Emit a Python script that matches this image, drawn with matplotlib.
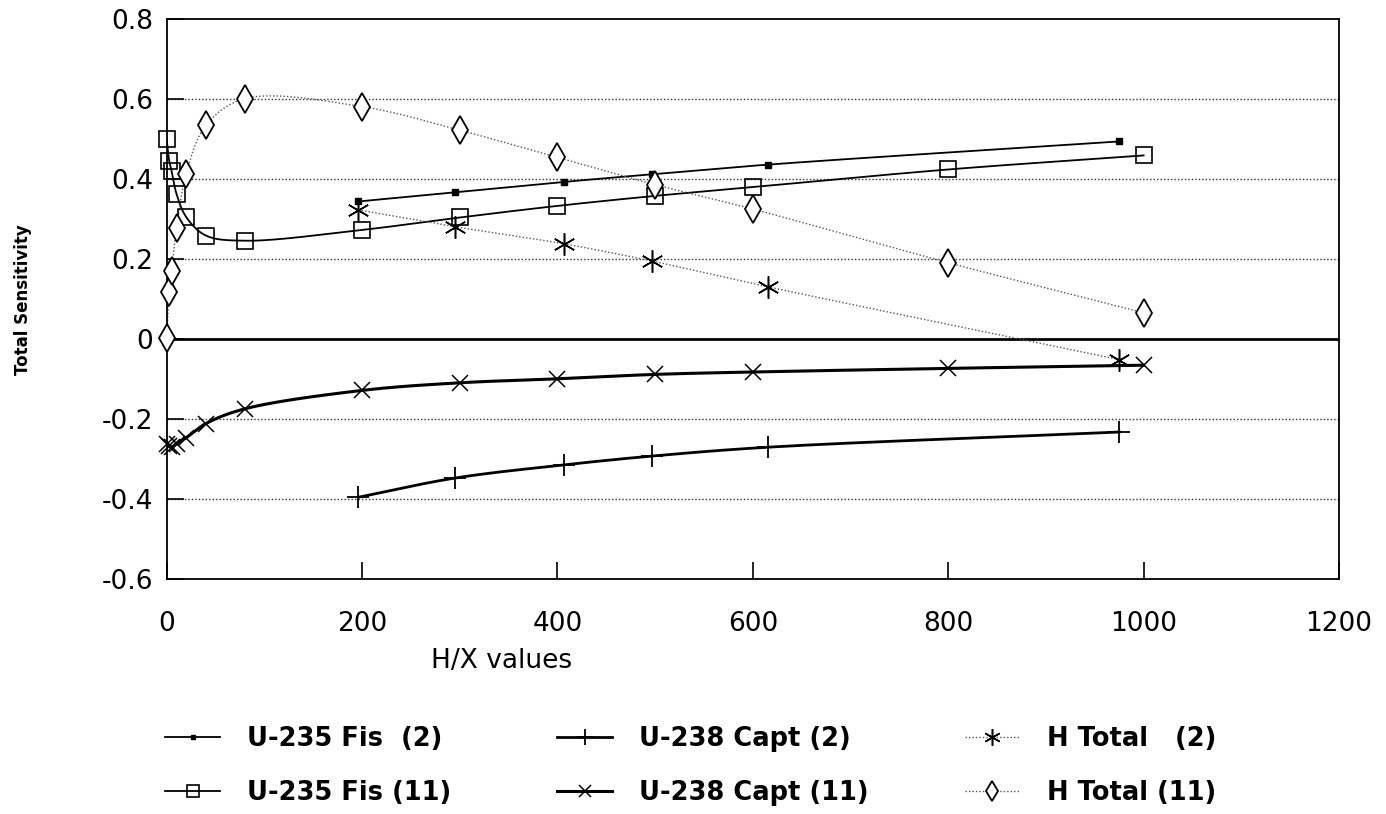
import numpy as np
import matplotlib.pyplot as plt
from matplotlib.lines import Line2D

plt.rcParams['font.family'] = ['DejaVu Sans']
plt.rcParams['axes.unicode_minus'] = False

# H/X values for the two cases
hx_2 = [196, 295, 407, 497, 615, 975]
hx_11 = [0, 2.5, 5, 10, 20, 40, 80, 200, 300, 400, 500, 600, 800, 1000]

u235_fis_2 = [0.344, 0.367, 0.393, 0.412, 0.436, 0.494]
u238_capt_2 = [-0.395, -0.347, -0.314, -0.292, -0.270, -0.232]
h_total_2 = [0.323, 0.281, 0.238, 0.195, 0.131, -0.051]

u235_fis_11 = [0.499, 0.446, 0.420, 0.363, 0.305, 0.259, 0.246,
               0.273, 0.304, 0.333, 0.358, 0.380, 0.424, 0.459]
u238_capt_11 = [-0.262, -0.268, -0.270, -0.261, -0.246, -0.211, -0.174,
                -0.128, -0.109, -0.099, -0.088, -0.082, -0.073, -0.065]
h_total_11 = [0.002, 0.117, 0.171, 0.277, 0.413, 0.534, 0.601,
              0.581, 0.522, 0.454, 0.386, 0.325, 0.191, 0.066]

xticks = [0, 200, 400, 600, 800, 1000, 1200]
yticks = [-0.6, -0.4, -0.2, 0, 0.2, 0.4, 0.6, 0.8]
ytick_labels = ['-0.6', '-0.4', '-0.2', '0', '0.2', '0.4', '0.6', '0.8']


def smooth(x, y, sx=0.975, sy=399.0, n=30):
    """Centripetal Catmull-Rom curve through the points (scaled to screen units)."""
    p = np.column_stack([np.asarray(x, float) * sx, np.asarray(y, float) * sy])
    p = np.vstack([2 * p[0] - p[1], p, 2 * p[-1] - p[-2]])
    out = []
    for i in range(1, len(p) - 2):
        p0, p1, p2, p3 = p[i - 1], p[i], p[i + 1], p[i + 2]
        t0 = 0.0
        t1 = t0 + max(np.linalg.norm(p1 - p0), 1e-6) ** 0.5
        t2 = t1 + max(np.linalg.norm(p2 - p1), 1e-6) ** 0.5
        t3 = t2 + max(np.linalg.norm(p3 - p2), 1e-6) ** 0.5
        t = np.linspace(t1, t2, n)[:, None]
        a1 = (t1 - t) / (t1 - t0) * p0 + (t - t0) / (t1 - t0) * p1
        a2 = (t2 - t) / (t2 - t1) * p1 + (t - t1) / (t2 - t1) * p2
        a3 = (t3 - t) / (t3 - t2) * p2 + (t - t2) / (t3 - t2) * p3
        b1 = (t2 - t) / (t2 - t0) * a1 + (t - t0) / (t2 - t0) * a2
        b2 = (t3 - t) / (t3 - t1) * a2 + (t - t1) / (t3 - t1) * a3
        c = (t2 - t) / (t2 - t1) * b1 + (t - t1) / (t2 - t1) * b2
        out.append(c if i == 1 else c[1:])
    c = np.vstack(out)
    return c[:, 0] / sx, c[:, 1] / sy


fig = plt.figure(figsize=(13.86, 8.14), dpi=100)
ax = fig.add_axes([0.1203, 0.2883, 0.8458, 0.6884])

ax.set_xlim(0, 1200)
ax.set_ylim(-0.6, 0.8)

# horizontal grid, zero line solid
for yv in yticks[1:-1]:
    if yv == 0:
        ax.axhline(0, color='black', lw=2.0, zorder=1)
    else:
        ax.axhline(yv, color='#333333', lw=1.0, ls=(0, (1, 1.5)), zorder=1)

dot = (0, (1, 1.5))
series = [
    # x, y, label, line kwargs, marker kwargs
    (hx_2, u235_fis_2, 'U-235 Fis  (2)',
     dict(color='black', lw=1.3, ls='-'),
     dict(marker='s', ms=4, mfc='black', mec='black', mew=1)),
    (hx_11, u235_fis_11, 'U-235 Fis (11)',
     dict(color='black', lw=1.3, ls='-'),
     dict(marker='s', ms=12, mfc='none', mec='black', mew=1.2)),
    (hx_2, u238_capt_2, 'U-238 Capt (2)',
     dict(color='black', lw=2.0, ls='-'),
     dict(marker='+', ms=16, mec='black', mew=1.3)),
    (hx_11, u238_capt_11, 'U-238 Capt (11)',
     dict(color='black', lw=2.2, ls='-'),
     dict(marker='x', ms=12, mec='black', mew=1.1)),
    (hx_2, h_total_2, 'H Total   (2)',
     dict(color='#555555', lw=1.0, ls=dot),
     dict(marker=(6, 2, 0), ms=16, mec='black', mew=1.1)),
    (hx_11, h_total_11, 'H Total (11)',
     dict(color='#555555', lw=1.0, ls=dot),
     dict(marker='d', ms=14, mfc='white', mec='black', mew=1.3)),
]

handles = []
for x, y, label, lkw, mkw in series:
    cx, cy = smooth(x, y)
    ax.plot(cx, cy, zorder=2, **lkw)
    ax.plot(x, y, ls='none', zorder=3, clip_on=False, **mkw)
    handles.append(Line2D([], [], label=label, **lkw,
                          **{k: (v * 0.75 if k == 'ms' else v) for k, v in mkw.items()}))

ax.set_xticks(xticks)
ax.set_yticks(yticks)
ax.set_yticklabels(ytick_labels)
ax.tick_params(axis='both', direction='in', length=12, width=1.2,
               labelsize=19, color='black')
ax.tick_params(axis='x', pad=23)
ax.tick_params(axis='y', pad=10)
for s in ax.spines.values():
    s.set_linewidth(1.3)

ax.set_xlabel('H/X values', fontsize=19)
ax.xaxis.set_label_coords(0.286, -0.146)
ax.xaxis.label.set_va('center')
ax.set_ylabel('Total Sensitivity', fontsize=12, fontweight='bold')
ax.yaxis.set_label_coords(-0.115, 0.5)

# legend: three columns of two entries, each placed on its own
col_left = [0.119, 0.402, 0.696]
for i, x0 in enumerate(col_left):
    leg = fig.legend(handles=handles[2 * i:2 * i + 2], loc='upper left',
                     bbox_to_anchor=(x0, 0.1085), frameon=False, borderpad=0,
                     borderaxespad=0, prop=dict(size=18.5, weight='bold'),
                     handlelength=2.15, handletextpad=1.05, labelspacing=1.09)

fig.savefig('out.png', dpi=100)
